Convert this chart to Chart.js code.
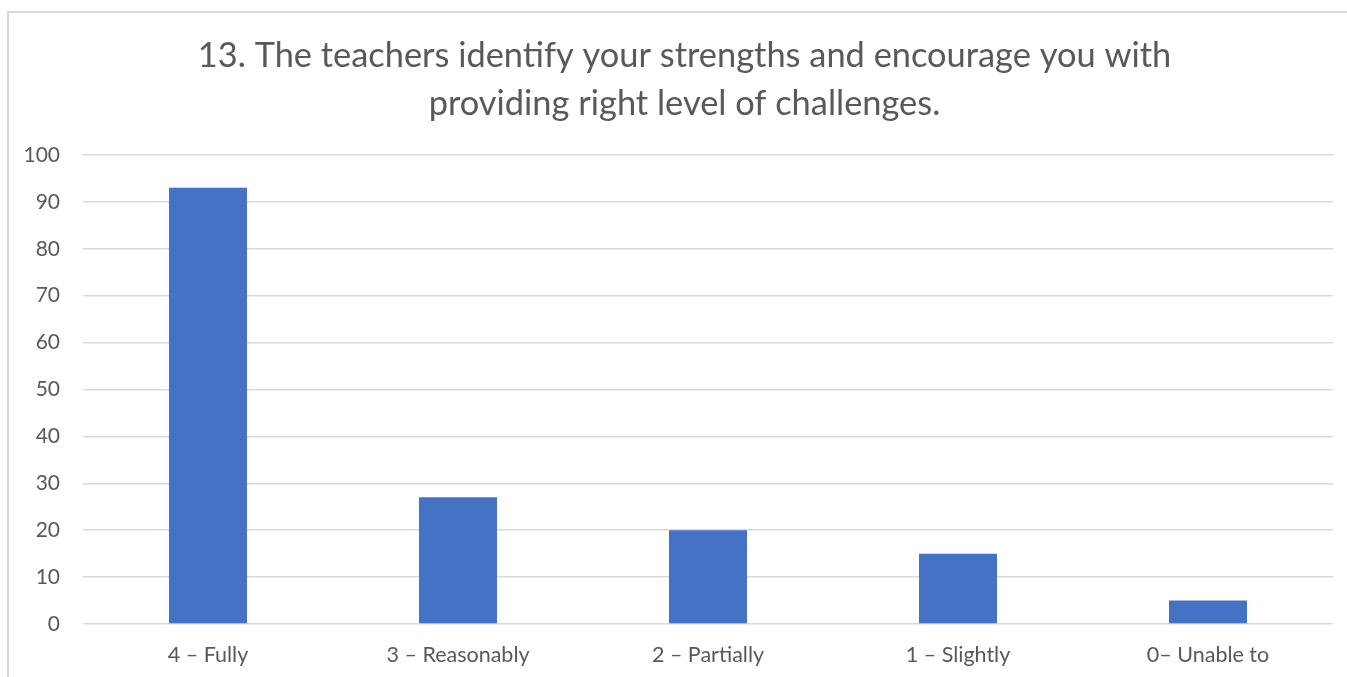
<!DOCTYPE html>
<html>
<head>
<meta charset="utf-8">
<script src="https://cdn.jsdelivr.net/npm/chart.js@4"></script>
<style>
  html, body { margin: 0; padding: 0; background: #fff; }
  #frame {
    position: absolute; left: 7px; top: 11px; right: 0; bottom: 0;
    border-top: 2px solid #d9d9d9; border-left: 2px solid #d9d9d9;
  }
  #wrap { position: absolute; left: 0; top: 0; width: 1347px; height: 677px; }
</style>
</head>
<body>
<div id="frame"></div>
<div id="wrap"><canvas id="surveyChart" width="1347" height="677"></canvas></div>
<script>
const categories = ['4 – Fully', '3 – Reasonably', '2 – Partially', '1 – Slightly', '0– Unable to'];
const responses = [93, 27, 20, 15, 5];
const titleLines = ['13. The teachers identify your strengths and encourage you with', 'providing right level of challenges.'];

const ctx = document.getElementById('surveyChart').getContext('2d');

// y labels would be clipped to the scale box, so widen it to the left edge after layout
const widenYLabels = {
  id: 'widenYLabels',
  afterLayout: (chart) => { chart.scales.y.left = 0; },
};

const surveyChart = new Chart(ctx, {
  type: 'bar',
  data: {
    labels: categories,
    datasets: [
      {
        label: 'Responses',
        data: responses,
        backgroundColor: '#4472c4',
        borderWidth: 0,
        barPercentage: 0.312,
        categoryPercentage: 1,
      },
    ],
  },
  options: {
    responsive: false,
    animation: false,
    layout: {
      // left padding keeps the title centred like the original
      padding: { top: 32, right: 14, bottom: 11, left: 36 },
    },
    plugins: {
      legend: { display: false },
      tooltip: { enabled: false },
      title: {
        display: true,
        text: titleLines,
        color: '#595959',
        font: { family: 'Lato', size: 34.4, weight: 'normal', lineHeight: 1.395 },
        padding: { top: 0, bottom: 27 },
      },
    },
    scales: {
      x: {
        grid: { display: false, drawTicks: false }, // no vertical lines
        border: { display: false },
        ticks: {
          color: '#595959',
          padding: 18,
          maxRotation: 0,
          font: { family: 'Lato', size: 21.5 },
        },
        afterFit: (scale) => { scale.height = 42; },
      },
      y: {
        min: 0,
        max: 100,
        grid: {
          color: '#d9d9d9',
          lineWidth: 1.5,
          drawTicks: false,
        },
        border: { display: false },
        ticks: {
          stepSize: 10,
          color: '#595959',
          padding: 23,
          font: { family: 'Lato', size: 21 },
        },
        afterFit: (scale) => { scale.width = 47; },
      },
    },
  },
  plugins: [widenYLabels],
});
</script>
</body>
</html>
